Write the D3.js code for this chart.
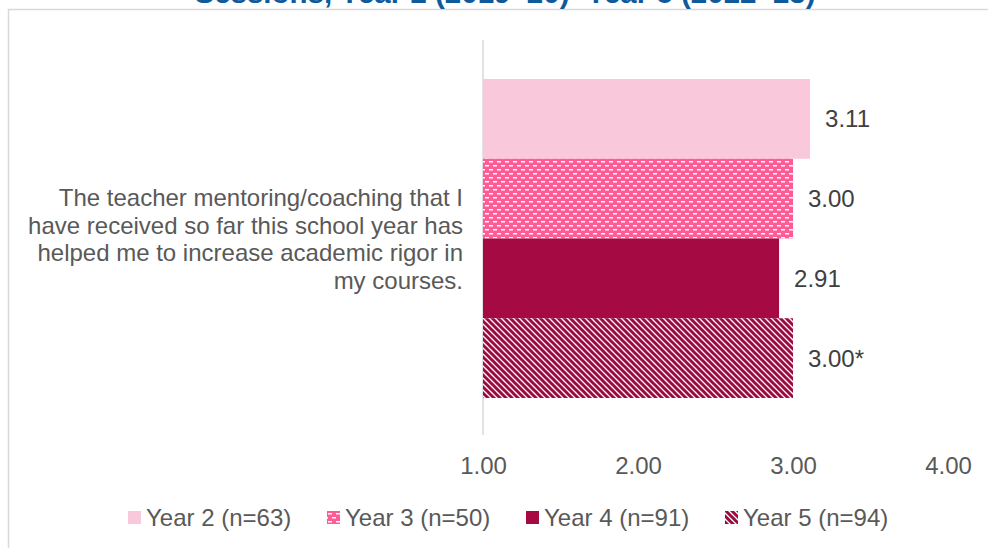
<!DOCTYPE html>
<html>
<head>
<meta charset="utf-8">
<script src="https://cdn.jsdelivr.net/npm/d3@7"></script>
<style>
  html, body { margin: 0; padding: 0; background: #ffffff; }
  svg { display: block; font-family: "Liberation Sans", Arial, sans-serif; }
</style>
</head>
<body>
<svg id="chart" width="988" height="548"></svg>
<script>
// ---- data ----
const titleText = "Sessions, Year 2 (2019–20)–Year 5 (2022–23)";
const categoryLines = [
  "The teacher mentoring/coaching that I",
  "have received so far this school year has",
  "helped me to increase academic rigor in",
  "my courses."
];
const seriesNames = ["Year 2 (n=63)", "Year 3 (n=50)", "Year 4 (n=91)", "Year 5 (n=94)"];
const seriesValues = [3.11, 3.00, 2.91, 3.00];
const valueLabels = ["3.11", "3.00", "2.91", "3.00*"];
const tickValues = [1, 2, 3, 4];

// ---- setup ----
const svg = d3.select("#chart");
const defs = svg.append("defs");

// patterns
const p3 = defs.append("pattern").attr("id", "pat3").attr("patternUnits", "userSpaceOnUse")
  .attr("width", 8).attr("height", 8);
p3.append("rect").attr("width", 8).attr("height", 8).attr("fill", "#FF5B95");
p3.append("rect").attr("x", 1).attr("y", 1).attr("width", 4).attr("height", 1.5).attr("fill", "#ffffff");
p3.append("rect").attr("x", 5).attr("y", 5).attr("width", 4).attr("height", 1.5).attr("fill", "#ffffff");
p3.append("rect").attr("x", -3).attr("y", 5).attr("width", 4).attr("height", 1.5).attr("fill", "#ffffff");

const p5 = defs.append("pattern").attr("id", "pat5").attr("patternUnits", "userSpaceOnUse")
  .attr("width", 6).attr("height", 6);
p5.append("rect").attr("width", 6).attr("height", 6).attr("fill", "#ffffff");
p5.append("path").attr("d", "M-1,-1 L7,7 M-4,2 L2,8 M4,-2 L10,4")
  .attr("stroke", "#9B0A3E").attr("stroke-width", 3);

const fills = ["#F9C8DA", "url(#pat3)", "#A50A42", "url(#pat5)"];

// border
svg.append("path").attr("d", "M8.5,548 L8.5,9.5 L988,9.5")
  .attr("fill", "none").attr("stroke", "#d9d9d9").attr("stroke-width", 1.5);

// title (cut off at top, as in the reference)
svg.append("text").attr("x", 505).attr("y", 3).attr("text-anchor", "middle")
  .attr("font-weight", "bold").attr("font-size", 29.5).attr("fill", "#0F5A9B")
  .text(titleText);

// scales
const x = d3.scaleLinear().domain([1, 4]).range([483, 948]);
const y = d3.scaleBand().domain(seriesNames).range([79, 398]).padding(0);

// vertical axis line
svg.append("line").attr("x1", x(1)).attr("x2", x(1)).attr("y1", 40).attr("y2", 435)
  .attr("stroke", "#d9d9d9").attr("stroke-width", 1.5);

// bars
svg.selectAll("rect.bar").data(seriesValues).enter().append("rect")
  .attr("class", "bar")
  .attr("x", x(1))
  .attr("y", (d, i) => y(seriesNames[i]))
  .attr("width", d => x(d) - x(1))
  .attr("height", y.bandwidth())
  .attr("fill", (d, i) => fills[i]);

// value labels
svg.selectAll("text.val").data(seriesValues).enter().append("text")
  .attr("class", "val")
  .attr("x", d => x(d) + 15)
  .attr("y", (d, i) => y(seriesNames[i]) + y.bandwidth() / 2 + 8.5)
  .attr("font-size", 24).attr("fill", "#404040")
  .text((d, i) => valueLabels[i]);

// x axis (labels only)
const xAxis = d3.axisBottom(x).tickValues(tickValues).tickFormat(d3.format(".2f")).tickSize(0).tickPadding(0);
const gx = svg.append("g").attr("transform", "translate(0,457)").call(xAxis);
gx.select(".domain").remove();
gx.selectAll("text").attr("font-size", 24).attr("fill", "#595959")
  .attr("font-family", "Liberation Sans, Arial, sans-serif").attr("dy", "0.71em");

// category label
const cat = svg.append("text").attr("text-anchor", "end").attr("font-size", 24).attr("fill", "#595959");
categoryLines.forEach((ln, i) => {
  cat.append("tspan").attr("x", 463).attr("y", 206 + i * 27.7).text(ln);
});

// legend
const legend = svg.append("g");
const itemStarts = [128, 327, 526, 725];
seriesNames.forEach((name, i) => {
  const g = legend.append("g").attr("transform", `translate(${itemStarts[i]},0)`);
  g.append("rect").attr("x", 0).attr("y", 511).attr("width", 13).attr("height", 13).attr("fill", fills[i]);
  g.append("text").attr("x", 18).attr("y", 526).attr("font-size", 24).attr("fill", "#595959").text(name);
});
</script>
</body>
</html>
